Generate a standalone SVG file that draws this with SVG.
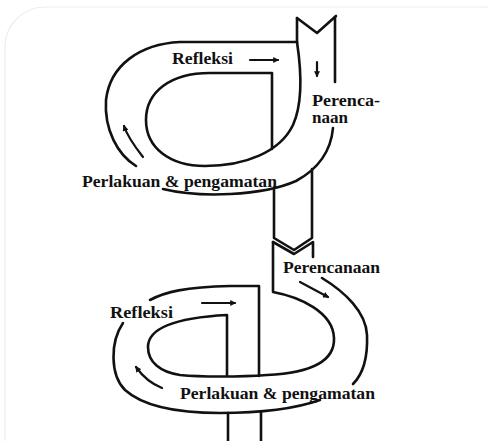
<svg xmlns="http://www.w3.org/2000/svg" width="488" height="441" viewBox="0 0 488 441">
<style>
.ln{fill:none;stroke:#111;stroke-width:2.6;stroke-linecap:round;stroke-linejoin:round}
.ar{fill:none;stroke:#111;stroke-width:2.2;stroke-linecap:round}
.lb{font-family:"Liberation Serif","Times New Roman",serif;font-weight:bold;font-size:16px;fill:#111}
</style>
<defs>
<marker id="ah" viewBox="0 0 10 10" refX="8" refY="5" markerWidth="7" markerHeight="6" markerUnits="userSpaceOnUse" orient="auto">
<path d="M0,0 L10,5 L0,10 Z" fill="#111"/>
</marker>
</defs>
<rect x="0" y="0" width="488" height="441" fill="#fff"/>
<rect x="5" y="7" width="520" height="470" rx="40" fill="#fff" stroke="#ededed" stroke-width="1.2"/>

<g id="connectors">
<path class="ln" d="M297,18 L317,33 L336,16"/>
<path class="ln" d="M297,18 V42"/>
<path class="ln" d="M335,17 V82"/>
<path class="ln" d="M297,42 H180 C140,44 110,65 106,100 C104,130 118,155 136,166"/>
<path class="ln" d="M297,42 C302,75 302,105 293,125 C280,152 245,166 205,166 C170,166 146,148 146,120 C146,92 170,73 210,73 H272 V149"/>
<path class="ln" d="M163,189 C200,198 262,196 296,181 C320,168 331,150 333,128"/>
<path class="ln" d="M274,190 V238 L294,250 L312,238 V169"/>
<path class="ln" d="M273,242 L294,254 L313,242 V257"/>
<path class="ln" d="M273,242 V292 C300,297 333,312 334,338 C335,362 310,373 267,375 C240,377 200,377 180,375 C160,372 148,362 148,347 C148,330 170,318 227,315 V376"/>
<path class="ln" d="M150,300 C165,292 185,287 230,286 H259 V376"/>
<path class="ln" d="M322,278 C345,292 366,312 367,335 C368,360 362,375 353,384"/>
<path class="ln" d="M123,323 C110,342 110,375 125,390 C145,408 180,413 220,413 C265,413 300,407 320,400"/>
<path class="ln" d="M228,413 V441"/>
<path class="ln" d="M261,412 V441"/>
<path class="ar" d="M250,60 H278" marker-end="url(#ah)"/>
<path class="ar" d="M317,62 V76" marker-end="url(#ah)"/>
<path class="ar" d="M143,157 C136,148 128,138 124,126" marker-end="url(#ah)"/>
<path class="ar" d="M202,303 H235" marker-end="url(#ah)"/>
<path class="ar" d="M300,282 L328,297" marker-end="url(#ah)"/>
<path class="ar" d="M162,388 C152,384 143,377 136,367" marker-end="url(#ah)"/>
</g>

<g id="refleksi-1"><text class="lb" x="172" y="64" textLength="61" lengthAdjust="spacingAndGlyphs">Refleksi</text></g>
<g id="perencanaan-1"><text class="lb" x="312" y="106" textLength="68" lengthAdjust="spacingAndGlyphs">Perenca-</text><text class="lb" x="312" y="123" textLength="36" lengthAdjust="spacingAndGlyphs">naan</text></g>
<g id="perlakuan-1"><text class="lb" x="82" y="187" textLength="195" lengthAdjust="spacingAndGlyphs">Perlakuan &amp; pengamatan</text></g>
<g id="perencanaan-2"><text class="lb" x="283" y="273" textLength="97" lengthAdjust="spacingAndGlyphs">Perencanaan</text></g>
<g id="refleksi-2"><text class="lb" x="110" y="318" textLength="63" lengthAdjust="spacingAndGlyphs">Refleksi</text></g>
<g id="perlakuan-2"><text class="lb" x="180" y="399" textLength="195" lengthAdjust="spacingAndGlyphs">Perlakuan &amp; pengamatan</text></g>
</svg>
